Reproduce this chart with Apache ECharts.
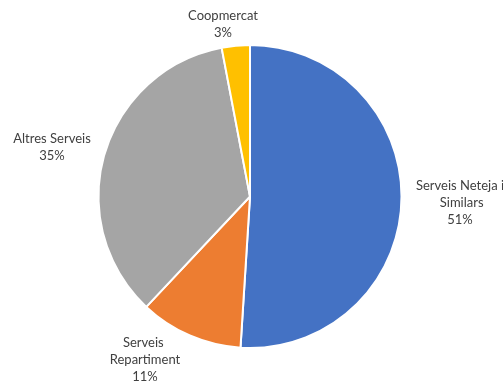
<!DOCTYPE html>
<html>
<head>
<meta charset="utf-8">
<script src="https://cdn.jsdelivr.net/npm/echarts@6/dist/echarts.min.js"></script>
<style>
  html, body { margin: 0; padding: 0; background: #fff; }
  #chart { width: 503px; height: 385px; }
</style>
</head>
<body>
<div id="chart"></div>
<script>
// Share of spending by service type
const categories = ['Serveis Neteja i Similars', 'Serveis Repartiment', 'Altres Serveis', 'Coopmercat'];
const shares = [51, 11, 35, 3];
const colors = ['#4472C4', '#ED7D31', '#A5A5A5', '#FFC000'];

// Label block centres (x, y) and wrap widths, in slice order
const labelSpots = [[460, 203], [145, 360], [52, 147], [223, 24]];
const labelWidths = [90, 80, 100, 100];

const chart = echarts.init(document.getElementById('chart'), null, { renderer: 'canvas' });

chart.setOption({
  animation: false,
  backgroundColor: '#ffffff',
  series: [{
    type: 'pie',
    center: [250, 196.5],
    radius: 151.5,
    startAngle: 90,
    clockwise: true,
    percentPrecision: 0,
    avoidLabelOverlap: false,
    itemStyle: { borderColor: '#ffffff', borderWidth: 2 },
    label: {
      show: true,
      position: 'outside',
      formatter: '{b}\n{d}%',
      color: '#404040',
      fontFamily: 'Lato',
      fontSize: 13,
      lineHeight: 17,
      align: 'center',
      overflow: 'break'
    },
    labelLine: { show: false },
    labelLayout: function (p) {
      const s = labelSpots[p.dataIndex];
      return { x: s[0], y: s[1], align: 'center', verticalAlign: 'middle' };
    },
    data: categories.map((name, i) => ({
      name: name,
      value: shares[i],
      itemStyle: { color: colors[i] },
      label: { width: labelWidths[i] }
    }))
  }]
});
</script>
</body>
</html>
